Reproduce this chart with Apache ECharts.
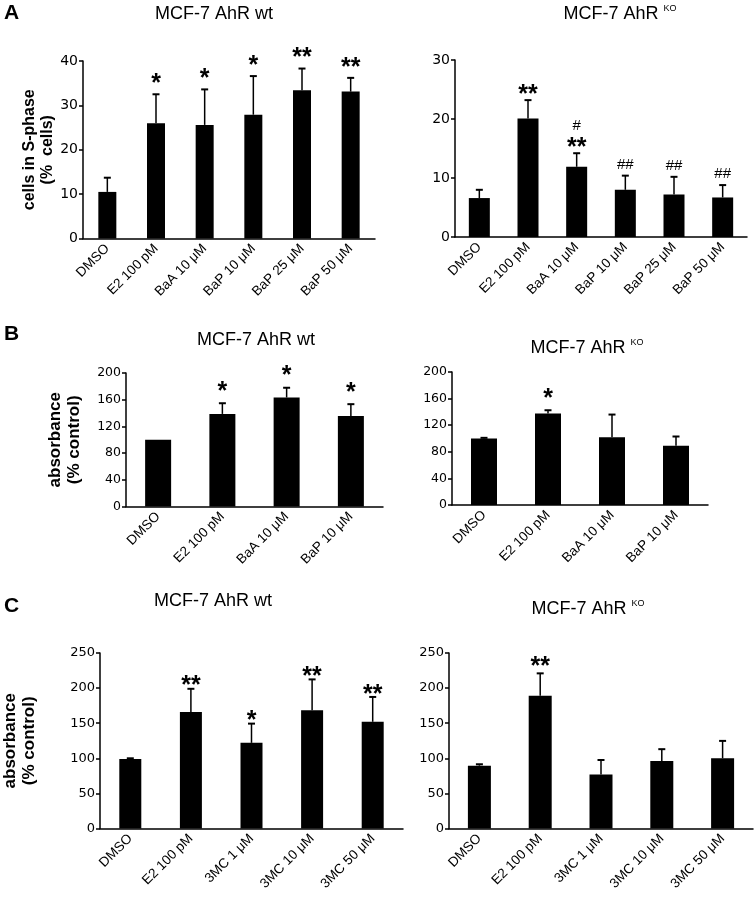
<!DOCTYPE html>
<html lang="en">
<head>
<meta charset="UTF-8">
<title>S-phase and proliferation</title>
<style>
  html, body { margin: 0; padding: 0; background: #fff; }
  #main { width: 755px; height: 897px; }
</style>
</head>
<body>
<div id="main"></div>
<script src="https://cdn.jsdelivr.net/npm/echarts@6/dist/echarts.min.js"></script>
<script>
var catA = ['DMSO', 'E2 100 pM', 'BaA 10 μM', 'BaP 10 μM', 'BaP 25 μM', 'BaP 50 μM'];
var catB = ['DMSO', 'E2 100 pM', 'BaA 10 μM', 'BaP 10 μM'];
var catC = ['DMSO', 'E2 100 pM', '3MC 1 μM', '3MC 10 μM', '3MC 50 μM'];

// panel A: % cells in S-phase (mean, upper error)
var aWtMean = [10.5, 26.0, 25.6, 27.9, 33.4, 33.1];
var aWtErr  = [3.2, 6.5, 8.0, 8.7, 4.9, 3.1];
var aWtSig  = ['', '*', '*', '*', '**', '**'];
var aKoMean = [6.6, 20.1, 11.9, 8.0, 7.2, 6.7];
var aKoErr  = [1.4, 3.1, 2.3, 2.4, 3.0, 2.1];
var aKoSig  = ['', '**', '#\n**', '##', '##', '##'];

// panel B: absorbance, % control
var bWtMean = [100, 138.7, 163.3, 135.7];
var bWtErr  = [0, 16, 14.6, 17.6];
var bWtSig  = ['', '*', '*', '*'];
var bKoMean = [100, 137.5, 102, 89];
var bKoErr  = [1, 5, 34, 14];
var bKoSig  = ['', '*', '', ''];

// panel C: absorbance, % control
var cWtMean = [99, 166, 122, 168.4, 152];
var cWtErr  = [1, 33, 27.4, 44, 35.4];
var cWtSig  = ['', '**', '*', '**', '**'];
var cKoMean = [89.5, 189, 77, 96, 100];
var cKoErr  = [2, 32, 20.6, 17, 24.8];
var cKoSig  = ['', '**', '', '', ''];

var FONT = '"Liberation Sans", Arial, sans-serif';
var TICKFONT = '"DejaVu Sans", sans-serif';

var panels = [
  { cats: catA, mean: aWtMean, err: aWtErr, sig: aWtSig, max: 40, step: 10, bw: 18, tick: 14, gap: 16,
    grid: { left: 83, top: 61, width: 292, height: 177.5 },
    name: 'cells in S-phase\n(%  cells)', nameGap: 21, nameSize: 16 },
  { cats: catA, mean: aKoMean, err: aKoErr, sig: aKoSig, max: 30, step: 10, bw: 21, tick: 14, gap: 11,
    grid: { left: 455, top: 60, width: 292, height: 177 } },
  { cats: catB, mean: bWtMean, err: bWtErr, sig: bWtSig, max: 200, step: 40, bw: 26, tick: 12.5, gap: 17,
    grid: { left: 126, top: 373, width: 257, height: 133.5 },
    name: 'absorbance\n(% control)', nameGap: 42, nameSize: 17 },
  { cats: catB, mean: bKoMean, err: bKoErr, sig: bKoSig, max: 200, step: 40, bw: 26, tick: 12.5, gap: 17,
    grid: { left: 452, top: 372, width: 256, height: 133 } },
  { cats: catC, mean: cWtMean, err: cWtErr, sig: cWtSig, max: 250, step: 50, bw: 22, tick: 13, gap: 8,
    grid: { left: 97, top: 653, width: 306, height: 175.5 },
    name: 'absorbance\n(% control)', nameGap: 61, nameSize: 17 },
  { cats: catC, mean: cKoMean, err: cKoErr, sig: cKoSig, max: 250, step: 50, bw: 23, tick: 13, gap: 12,
    grid: { left: 449, top: 653, width: 304, height: 175.5 } }
];

// upper error bar + significance marks drawn on the axis scales
function errRenderer(sig, gap) {
  return function (params, api) {
    var i = api.value(0), m = api.value(1), e = api.value(2);
    var base = api.coord([i, m]);
    var top = api.coord([i, m + e]);
    var kids = [];
    if (e > 0) {
      kids.push({ type: 'line', shape: { x1: base[0], y1: base[1], x2: top[0], y2: top[1] },
        style: { stroke: '#000', lineWidth: 1.5 } });
      kids.push({ type: 'line', shape: { x1: top[0] - 3.5, y1: top[1], x2: top[0] + 3.5, y2: top[1] },
        style: { stroke: '#000', lineWidth: 2 } });
    }
    var s = sig[params.dataIndex];
    if (s) {
      var lines = s.split('\n').reverse();
      var y = top[1] - gap;
      lines.forEach(function (l) {
        var hash = l.indexOf('#') >= 0;
        var fs = hash ? 15 : 25;
        kids.push({ type: 'text', style: {
          text: l, x: top[0], y: hash ? y : y + 0.23 * fs,
          align: 'center', verticalAlign: 'middle',
          font: (hash ? '' : 'bold ') + fs + 'px ' + FONT, fill: '#000'
        } });
        y -= 16;
      });
    }
    return { type: 'group', children: kids };
  };
}

var grids = [], xAxes = [], yAxes = [], series = [];
panels.forEach(function (p, k) {
  grids.push(p.grid);
  xAxes.push({
    type: 'category', gridIndex: k, data: p.cats,
    axisLine: { lineStyle: { color: '#000', width: 1.5 } },
    axisTick: { show: false },
    axisLabel: { rotate: 45, interval: 0, color: '#000', fontSize: 13.5, fontFamily: FONT, margin: 8 }
  });
  yAxes.push({
    type: 'value', gridIndex: k, min: 0, max: p.max, interval: p.step,
    axisLine: { show: true, lineStyle: { color: '#000', width: 1.5 } },
    axisTick: { show: true, length: 4, lineStyle: { color: '#000', width: 1.5 } },
    axisLabel: { color: '#000', fontSize: p.tick, fontFamily: TICKFONT, margin: 5 },
    splitLine: { show: false },
    name: p.name || '', nameLocation: 'middle', nameGap: p.nameGap || 0,
    nameTextStyle: { color: '#000', fontSize: p.nameSize || 16, fontWeight: 'bold', fontFamily: FONT,
      lineHeight: (p.nameSize || 16) + 2 }
  });
  series.push({
    type: 'bar', xAxisIndex: k, yAxisIndex: k, data: p.mean, barWidth: p.bw,
    itemStyle: { color: '#000' }, silent: true
  });
  series.push({
    type: 'custom', xAxisIndex: k, yAxisIndex: k, z: 5, silent: true,
    renderItem: errRenderer(p.sig, p.gap),
    data: p.mean.map(function (v, i) { return [i, v, p.err[i]]; })
  });
});

function title(x, y, ko) {
  var rich = {
    m: { fontSize: 18, fontFamily: FONT, fill: '#000' },
    k: { fontSize: 9, fontFamily: FONT, fill: '#000', verticalAlign: 'top', lineHeight: 20 }
  };
  return { type: 'text', x: x, y: y, style: {
    text: ko ? '{m|MCF-7 AhR }{k|KO}' : '{m|MCF-7 AhR wt}',
    rich: rich, align: 'center', verticalAlign: 'middle', textAlign: 'center', textVerticalAlign: 'middle'
  } };
}
function letter(t, y) {
  return { type: 'text', x: 4, y: y, style: { text: t, font: 'bold 21px ' + FONT, fill: '#000' } };
}

var chart = echarts.init(document.getElementById('main'), null, { renderer: 'canvas' });
chart.setOption({
  animation: false,
  backgroundColor: '#fff',
  grid: grids,
  xAxis: xAxes,
  yAxis: yAxes,
  series: series,
  graphic: [
    letter('A', 3), letter('B', 324), letter('C', 596),
    title(214, 14, false), title(620, 14, true),
    title(256, 340, false), title(587, 348, true),
    title(213, 601, false), title(588, 609, true)
  ]
});
</script>
</body>
</html>
